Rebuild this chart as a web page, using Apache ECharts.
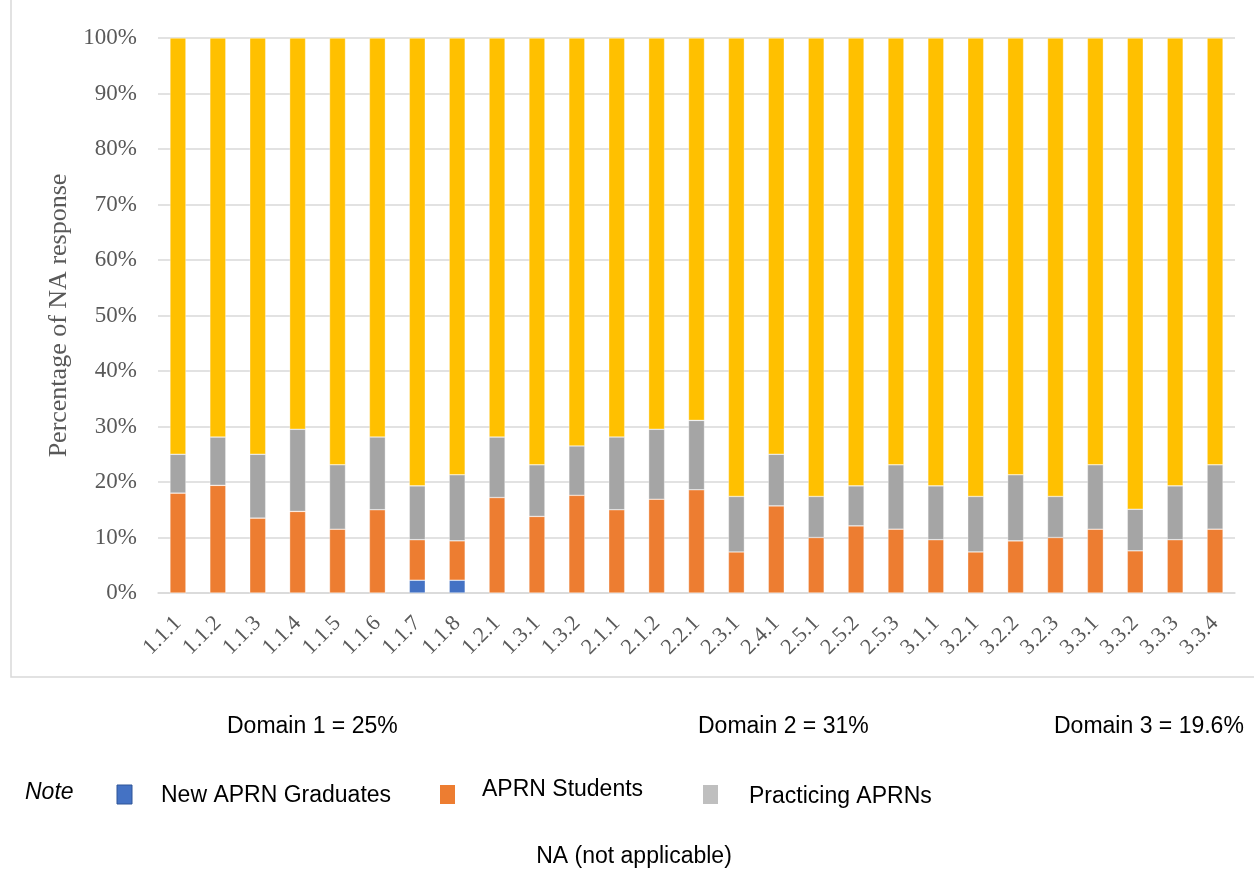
<!DOCTYPE html>
<html>
<head>
<meta charset="utf-8">
<script src="https://cdn.jsdelivr.net/npm/echarts@6/dist/echarts.min.js"></script>
<style>
  html, body { margin: 0; padding: 0; background: #fff; }
  #chart { width: 1254px; height: 869px; }
</style>
</head>
<body>
<div id="chart"></div>
<script>
// Competency items on the x axis
const categories = ['1.1.1','1.1.2','1.1.3','1.1.4','1.1.5','1.1.6','1.1.7','1.1.8','1.2.1','1.3.1','1.3.2',
  '2.1.1','2.1.2','2.2.1','2.3.1','2.4.1','2.5.1','2.5.2','2.5.3',
  '3.1.1','3.2.1','3.2.2','3.2.3','3.3.1','3.3.2','3.3.3','3.3.4'];

// Share of NA responses per group (percent, stacked segments)
const newGraduates = [0,0,0,0,0,0,2.3,2.3,0,0,0, 0,0,0,0,0,0,0,0, 0,0,0,0,0,0,0,0];
const students =     [18.0,19.4,13.5,14.7,11.5,15.0,7.3,7.1,17.2,13.8,17.6,
                      15.0,16.9,18.6,7.4,15.7,10.0,12.1,11.5,
                      9.6,7.4,9.4,10.0,11.5,7.6,9.6,11.5];
const practicing =   [7.0,8.7,11.5,14.8,11.6,13.1,9.7,11.9,10.9,9.3,8.9,
                      13.1,12.6,12.5,10.0,9.3,7.4,7.2,11.6,
                      9.7,10.0,11.9,7.4,11.6,7.5,9.7,11.6];
const otherResponses = [75.0,71.9,75.0,70.5,76.9,71.9,80.7,78.7,71.9,76.9,73.5,
                        71.9,70.5,68.9,82.6,75.0,82.6,80.7,76.9,
                        80.7,82.6,78.7,82.6,76.9,84.9,80.7,76.9];

const yTicks = [0,10,20,30,40,50,60,70,80,90,100];
const domainNotes = ['Domain 1 = 25%', 'Domain 2 = 31%', 'Domain 3 = 19.6%'];

const COLORS = { blue: '#4472C4', orange: '#ED7D31', gray: '#A5A5A5', yellow: '#FFC000' };
const serif = '"Liberation Serif", "DejaVu Serif", serif';
const sans = '"Liberation Sans", Arial, sans-serif';
const noteFont = '23px ' + sans;

const chart = echarts.init(document.getElementById('chart'));

function barSeries(name, data, color) {
  return {
    name, type: 'bar', stack: 'total', data,
    barWidth: 16,
    itemStyle: { color, borderColor: 'rgba(255,255,255,0.55)', borderWidth: 0.6 },
    emphasis: { disabled: true }
  };
}

function note(text, x, y, extra) {
  return { type: 'text', x, y, silent: true,
    style: Object.assign({ text, font: noteFont, fill: '#000', verticalAlign: 'middle' }, extra || {}) };
}

chart.setOption({
  animation: false,
  backgroundColor: '#fff',
  grid: { left: 158, right: 19, top: 38, bottom: 276, containLabel: false },
  xAxis: {
    type: 'category',
    data: categories,
    axisLine: { lineStyle: { color: '#d9d9d9', width: 1.5 } },
    axisTick: { show: false },
    axisLabel: {
      rotate: 45, interval: 0, margin: 27,
      fontFamily: serif, fontSize: 22, color: '#595959'
    }
  },
  yAxis: {
    type: 'value', min: 0, max: 100, interval: 10,
    name: 'Percentage of NA response',
    nameLocation: 'middle', nameGap: 81, nameRotate: 90,
    nameTextStyle: { fontFamily: serif, fontSize: 26, color: '#595959' },
    axisLine: { show: false },
    axisTick: { show: false },
    axisLabel: {
      margin: 21,
      fontFamily: serif, fontSize: 23, color: '#595959',
      formatter: v => yTicks.includes(v) ? v + '%' : ''
    },
    splitLine: { lineStyle: { color: '#d9d9d9', width: 1.5 } }
  },
  series: [
    barSeries('New APRN Graduates', newGraduates, COLORS.blue),
    barSeries('APRN Students', students, COLORS.orange),
    barSeries('Practicing APRNs', practicing, COLORS.gray),
    barSeries('Other', otherResponses, COLORS.yellow)
  ],
  graphic: [
    // outer chart frame
    { type: 'rect', silent: true, z: -1,
      shape: { x: 11, y: -2, width: 1250, height: 679 },
      style: { fill: 'none', stroke: '#d9d9d9', lineWidth: 1.5 } },
    // domain summaries
    note(domainNotes[0], 227, 727),
    note(domainNotes[1], 698, 727),
    note(domainNotes[2], 1054, 727),
    // key
    note('Note', 25, 793, { font: 'italic ' + noteFont }),
    { type: 'rect', silent: true, shape: { x: 117, y: 785, width: 15, height: 19 }, style: { fill: COLORS.blue, stroke: '#2F5597', lineWidth: 1 } },
    note('New APRN Graduates', 161, 796),
    { type: 'rect', silent: true, shape: { x: 440, y: 785, width: 15, height: 19 }, style: { fill: COLORS.orange } },
    note('APRN Students', 482, 790),
    { type: 'rect', silent: true, shape: { x: 703, y: 785, width: 15, height: 19 }, style: { fill: '#BFBFBF' } },
    note('Practicing APRNs', 749, 797),
    note('NA (not applicable)', 634, 857, { align: 'center' })
  ]
});
</script>
</body>
</html>
